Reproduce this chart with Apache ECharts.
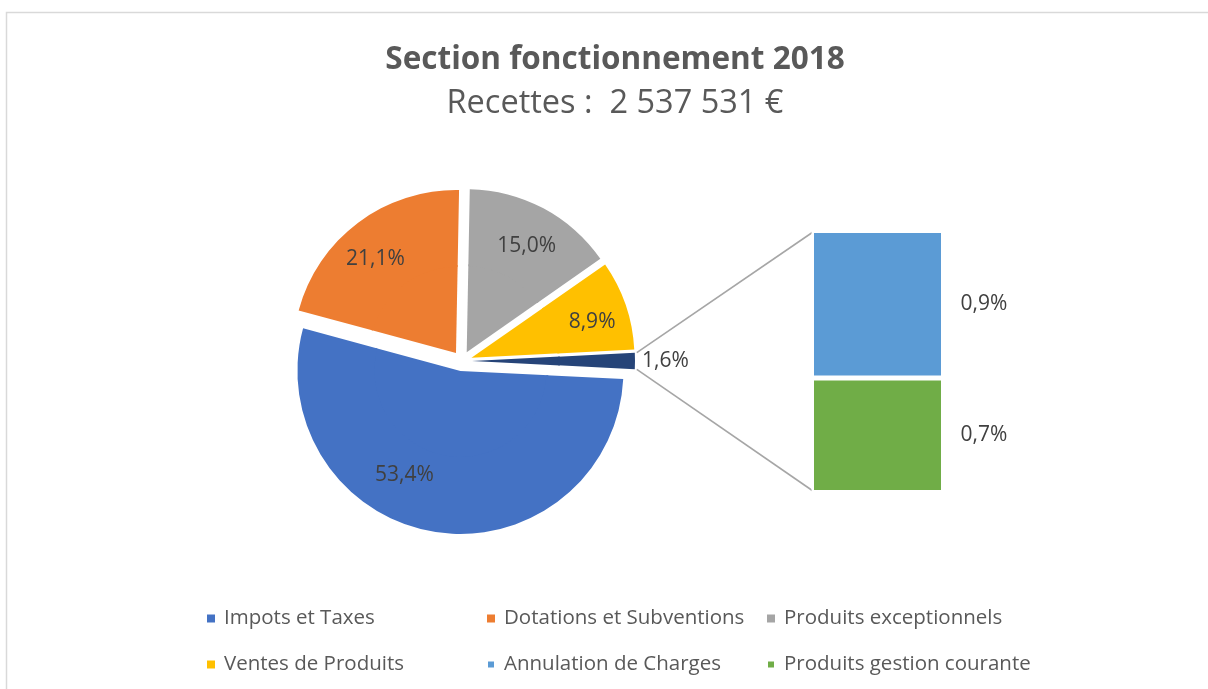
<!DOCTYPE html>
<html>
<head>
<meta charset="utf-8">
<script src="https://cdn.jsdelivr.net/npm/echarts@6/dist/echarts.min.js"></script>
<style>
  html, body { margin: 0; padding: 0; background: #fff; }
  #container { width: 1208px; height: 689px; }
</style>
</head>
<body>
<div id="container"></div>
<script>
var pieNames = ["Impots et Taxes", "Dotations et Subventions", "Produits exceptionnels", "Ventes de Produits", "Autres"];
var pieValues = [53.4, 21.1, 15.0, 8.9, 1.6];
var pieColors = ["#4472C4", "#ED7D31", "#A5A5A5", "#FFC000", "#264478"];

// bar of pie, listed bottom to top
var barNames = ["Produits gestion courante", "Annulation de Charges"];
var barValues = [0.7, 0.9];
var barColors = ["#70AD47", "#5B9BD5"];

var legendColumns = [
  ["Impots et Taxes", "Ventes de Produits"],
  ["Dotations et Subventions", "Annulation de Charges"],
  ["Produits exceptionnels", "Produits gestion courante"]
];
var legendLefts = [207, 486, 766];

var dom = document.getElementById("container");
var myChart = echarts.init(dom);

var FONT = "Open Sans";
var pieCenter = [462, 361];
var pieRadius = 163;
var explode = 10;

var pieTotal = 0;
pieValues.forEach(function (v) { pieTotal += v; });
var otherHalf = pieValues[pieValues.length - 1] / pieTotal * 360 / 2;
var barTotal = 0;
barValues.forEach(function (v) { barTotal += v; });

function pct(v) {
  return v.toFixed(1).replace(".", ",") + "%";
}

var pieData = pieNames.map(function (n, i) {
  var item = {
    name: n,
    value: pieValues[i],
    selected: true,
    itemStyle: { color: pieColors[i] }
  };
  if (i == pieNames.length - 1) {
    item.label = { position: "outside" };
  }
  return item;
});

var series = [];
// inner part of the pie (no labels), so that the labels of the ring sit far out like Excel
series.push({
  type: "pie",
  center: pieCenter,
  radius: [0, 88],
  startAngle: -otherHalf,
  selectedMode: "multiple",
  selectedOffset: explode,
  silent: true,
  label: { show: false },
  labelLine: { show: false },
  select: { itemStyle: { borderWidth: 0 } },
  data: pieData.map(function (d) {
    return { name: d.name, value: d.value, selected: true, itemStyle: d.itemStyle };
  })
});
series.push({
  type: "pie",
  center: pieCenter,
  radius: [86, pieRadius],
  startAngle: -otherHalf,
  selectedMode: "multiple",
  selectedOffset: explode,
  avoidLabelOverlap: false,
  emphasis: { scale: false },
  select: { itemStyle: { borderWidth: 0 }, label: { color: "#404040" } },
  label: {
    show: true,
    position: "inside",
    color: "#404040",
    fontFamily: FONT,
    fontSize: 21,
    distanceToLabelLine: 5,
    formatter: function (p) { return pct(p.value); }
  },
  labelLine: { show: false, length: 2, length2: 0 },
  labelLayout: function (p) {
    // Excel puts the big slice label a bit lower-left, the others a bit lower
    if (p.dataIndex == 0) return { dx: -36, dy: -22 };
    if (p.dataIndex == 1) return { dx: -4, dy: 8 };
    if (p.dataIndex == pieNames.length - 1) return {};
    return { dy: 6 };
  },
  data: pieData
});

barNames.forEach(function (n, i) {
  series.push({
    name: n,
    type: "bar",
    stack: "autres",
    barWidth: "100%",
    xAxisIndex: 0,
    yAxisIndex: 0,
    itemStyle: { color: barColors[i], borderColor: "#fff", borderWidth: 2.5 },
    label: {
      show: true,
      position: "right",
      distance: 17,
      color: "#404040",
      fontFamily: FONT,
      fontSize: 21,
      formatter: function (p) { return pct(p.value); }
    },
    data: [barValues[i]]
  });
});

var legends = legendColumns.map(function (col, i) {
  return {
    orient: "vertical",
    left: legendLefts[i],
    top: 608,
    padding: 0,
    itemGap: 25,
    icon: "rect",
    itemWidth: 8,
    itemHeight: 8,
    textStyle: { color: "#595959", fontFamily: FONT, fontSize: 20.5, padding: [0, 0, 0, 4] },
    data: col
  };
});

option = {
  animation: false,
  title: {
    text: "Section fonctionnement 2018",
    subtext: "Recettes :  2 537 531 €",
    left: 610,
    textAlign: "center",
    top: 39,
    itemGap: 11,
    textStyle: { color: "#595959", fontFamily: FONT, fontWeight: "bold", fontSize: 31.5 },
    subtextStyle: { color: "#595959", fontFamily: FONT, fontSize: 32.5 }
  },
  legend: legends,
  grid: { left: 811.5, top: 230.5, width: 132, height: 262 },
  xAxis: { type: "category", data: ["Autres"], show: false },
  yAxis: { type: "value", min: 0, max: barTotal, show: false },
  series: series
};

myChart.setOption(option);

// connector lines between the small slice and the bar
var band = myChart.getModel().getComponent("xAxis", 0).axis.getBandWidth();
var topPt = myChart.convertToPixel({ gridIndex: 0 }, [0, barTotal]);
var botPt = myChart.convertToPixel({ gridIndex: 0 }, [0, 0]);
var barLeft = topPt[0] - band / 2 + 1.5;
var a = otherHalf * Math.PI / 180;
var sx = pieCenter[0] + explode + (pieRadius + 2) * Math.cos(a);
var syTop = pieCenter[1] - (pieRadius + 2) * Math.sin(a);
var syBot = pieCenter[1] + (pieRadius + 2) * Math.sin(a);

myChart.setOption({
  graphic: [
    {
      type: "rect",
      silent: true,
      shape: { x: 6.5, y: 12.5, width: 1230, height: 700 },
      style: { fill: "none", stroke: "#d9d9d9", lineWidth: 1.5 }
    },
    {
      type: "line",
      silent: true,
      shape: { x1: sx, y1: syTop, x2: barLeft, y2: topPt[1] + 1.5 },
      style: { stroke: "#a6a6a6", lineWidth: 1.6 }
    },
    {
      type: "line",
      silent: true,
      shape: { x1: sx, y1: syBot, x2: barLeft, y2: botPt[1] - 1.5 },
      style: { stroke: "#a6a6a6", lineWidth: 1.6 }
    }
  ]
});
</script>
</body>
</html>
